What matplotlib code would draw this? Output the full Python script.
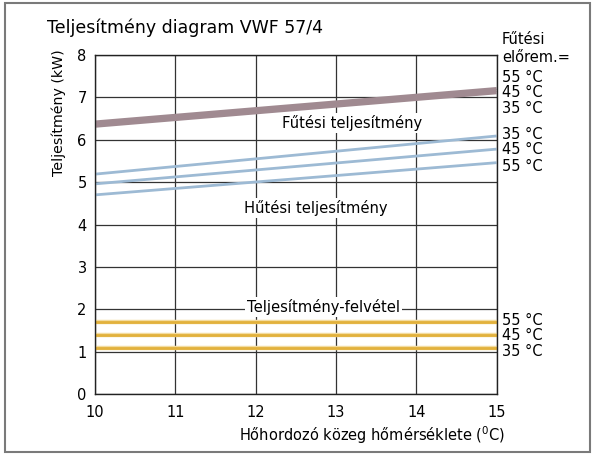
import matplotlib.pyplot as plt
from matplotlib.patches import Rectangle
import numpy as np

# x: hőhordozó közeg hőmérséklete (°C)
homerseklet = [10, 15]

# fűtési teljesítmény (kW) előremenő hőmérséklet szerint
futes_55 = [6.42, 7.21]
futes_45 = [6.37, 7.16]
futes_35 = [6.32, 7.11]

# hűtési teljesítmény (kW)
hutes_35 = [5.19, 6.09]
hutes_45 = [4.96, 5.78]
hutes_55 = [4.70, 5.46]

# teljesítmény-felvétel (kW)
felvetel_55 = [1.70, 1.70]
felvetel_45 = [1.40, 1.40]
felvetel_35 = [1.08, 1.08]

x_ticks = [10, 11, 12, 13, 14, 15]
y_ticks = [0, 1, 2, 3, 4, 5, 6, 7, 8]

jobb_cimkek = ['55 °C', '45 °C', '35 °C', '35 °C', '45 °C', '55 °C', '55 °C', '45 °C', '35 °C']
jobb_cimke_y = [7.48, 7.12, 6.75, 6.13, 5.77, 5.36, 1.73, 1.375, 1.0]

plt.rcParams['font.family'] = ['DejaVu Sans']

fig = plt.figure(figsize=(5.94, 4.55), dpi=100)
ax = fig.add_axes([0.16, 0.134, 0.676, 0.745])

# keret a kép körül
fig.patches.append(Rectangle((5 / 594, 3 / 455), 585 / 594, 449 / 455, transform=fig.transFigure,
                             fill=False, edgecolor='#7a7a7a', linewidth=1.5))

ax.set_xlim(10, 15)
ax.set_ylim(0, 8)
ax.set_xticks(x_ticks)
ax.set_yticks(y_ticks)
ax.tick_params(length=0, labelsize=10.5)
ax.tick_params(axis='x', pad=8)
ax.tick_params(axis='y', pad=6)
ax.grid(True, color='#333333', linewidth=0.9)
ax.set_axisbelow(True)
for s in ax.spines.values():
    s.set_color('#222222')
    s.set_linewidth(1.0)

mauve = '#a08a91'
for y in [futes_55, futes_45, futes_35]:
    ax.plot(homerseklet, y, color=mauve, linewidth=2.2, solid_capstyle='butt')

kek = '#9dbad4'
for y in [hutes_35, hutes_45, hutes_55]:
    ax.plot(homerseklet, y, color=kek, linewidth=2.0, solid_capstyle='butt')

arany = '#e2b13c'
for y in [felvetel_55, felvetel_45, felvetel_35]:
    ax.plot(homerseklet, y, color='#f3dca0', linewidth=3.2, solid_capstyle='butt')
    ax.plot(homerseklet, y, color=arany, linewidth=2.0, solid_capstyle='butt')

doboz = dict(facecolor='white', edgecolor='none', pad=1.5)
ax.text(13.2, 6.4, 'Fűtési teljesítmény', ha='center', va='center', fontsize=10.6, bbox=doboz)
ax.text(12.75, 4.4, 'Hűtési teljesítmény', ha='center', va='center', fontsize=10.6, bbox=doboz)
ax.text(12.84, 2.05, 'Teljesítmény-felvétel', ha='center', va='center', fontsize=10.6, bbox=doboz)

for txt, yy in zip(jobb_cimkek, jobb_cimke_y):
    ax.text(15.07, yy, txt, ha='left', va='center', fontsize=10.5)

fig.text(502 / 594, 1 - 40 / 455, 'Fűtési', ha='left', va='center', fontsize=10.5)
fig.text(502 / 594, 1 - 58 / 455, 'előrem.=', ha='left', va='center', fontsize=10.5)

fig.text(47 / 594, 1 - 28 / 455, 'Teljesítmény diagram VWF 57/4', ha='left', va='center', fontsize=12.5)
fig.text(59 / 594, 1 - 113 / 455, 'Teljesítmény (kW)', rotation=90, ha='center', va='center', fontsize=10.2)
fig.text(505 / 594, 1 - 435 / 455, 'Hőhordozó közeg hőmérséklete ($^{0}$C)', ha='right', va='center', fontsize=10.5)

fig.savefig('out.png', dpi=100)
